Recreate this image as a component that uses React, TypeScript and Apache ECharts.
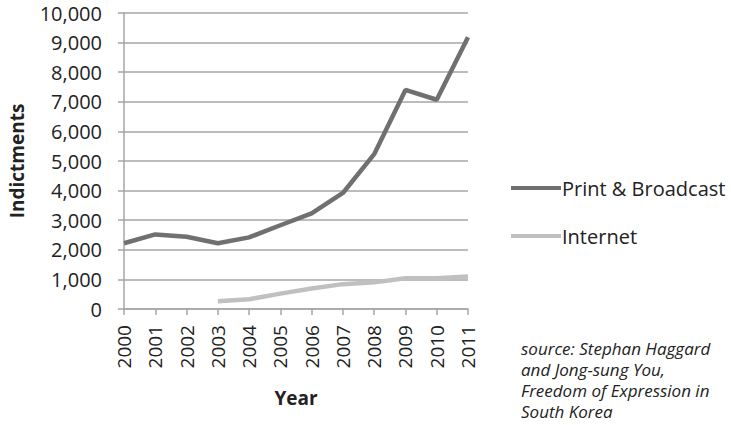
import React, { useEffect, useRef } from "react";
import * as echarts from "echarts";

const years = ["2000","2001","2002","2003","2004","2005","2006","2007","2008","2009","2010","2011"];
const printBroadcast = [2220, 2520, 2440, 2220, 2420, 2830, 3230, 3920, 5230, 7400, 7070, 9180];
const internet = [null, null, null, 260, 330, 520, 690, 840, 900, 1040, 1040, 1100];
const sourceLines = ["source: Stephan Haggard", "and Jong-sung You,", "Freedom of Expression in", "South Korea"];

const FONT = "'Open Sans', sans-serif";
const DARK = "#707070";
const LIGHT = "#c0c0c0";
const GRID = "#a6a6a6";

export default function App() {
  const ref = useRef<HTMLDivElement>(null);
  useEffect(() => {
    const chart = echarts.init(ref.current!, null, { renderer: "svg" });
    chart.setOption({
      animation: false,
      backgroundColor: "#ffffff",
      textStyle: { fontFamily: FONT },
      grid: { left: 124, right: 263, top: 13, bottom: 116 },
      legend: {
        orient: "vertical",
        left: 506,
        top: 173,
        itemGap: 28,
        itemWidth: 50,
        itemHeight: 4,
        icon: "rect",
        textStyle: { fontFamily: FONT, fontSize: 20, color: "#222", padding: [0, 0, 0, -4] },
        data: ["Print & Broadcast", "Internet"],
      },
      xAxis: {
        type: "category",
        data: years,
        boundaryGap: false,
        name: "Year",
        nameLocation: "middle",
        nameGap: 79,
        nameTextStyle: { fontFamily: FONT, fontSize: 19, fontWeight: "bold", color: "#222" },
        axisLine: { lineStyle: { color: GRID, width: 1.5 } },
        axisTick: { show: true, length: 6, alignWithLabel: true, lineStyle: { color: GRID, width: 1.5 } },
        axisLabel: { rotate: 90, fontFamily: FONT, fontSize: 19, color: "#222", margin: 16 },
        splitLine: { show: false },
      },
      yAxis: {
        type: "value",
        min: 0,
        max: 10000,
        interval: 1000,
        name: "Indictments",
        nameLocation: "middle",
        nameGap: 98,
        nameRotate: 90,
        nameTextStyle: { fontFamily: FONT, fontSize: 19, fontWeight: "bold", color: "#222" },
        axisLine: { show: true, lineStyle: { color: GRID, width: 1.5 } },
        axisTick: { show: true, length: 6, lineStyle: { color: GRID, width: 1.5 } },
        axisLabel: {
          fontFamily: FONT,
          fontSize: 20,
          color: "#222",
          margin: 22,
          formatter: (v: number) => v.toLocaleString("en-US"),
        },
        splitLine: { show: true, lineStyle: { color: GRID, width: 1.5 } },
      },
      series: [
        {
          name: "Print & Broadcast",
          type: "line",
          data: printBroadcast,
          showSymbol: false,
          symbol: "none",
          lineStyle: { color: DARK, width: 4.5 },
          itemStyle: { color: DARK },
        },
        {
          name: "Internet",
          type: "line",
          data: internet,
          showSymbol: false,
          symbol: "none",
          connectNulls: false,
          lineStyle: { color: LIGHT, width: 4.5 },
          itemStyle: { color: LIGHT },
        },
      ],
      graphic: sourceLines.map((t, i) => ({
        type: "text",
        left: 521,
        top: 340 + i * 21,
        style: {
          text: t,
          font: `italic 500 17px ${FONT}`,
          fill: "#222",
        },
      })),
    });
    return () => chart.dispose();
  }, []);
  return (
    <div
      ref={ref}
      style={{ position: "fixed", left: 0, top: 0, width: 731, height: 425 }}
    />
  );
}
